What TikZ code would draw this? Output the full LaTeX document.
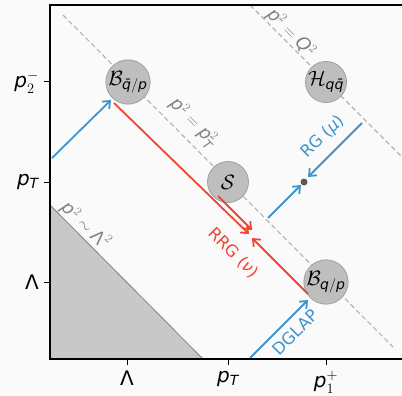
\documentclass[tikz,border=0pt]{standalone}
\usepackage{amsmath}
\usepackage{fontspec}
\setmainfont{DejaVu Sans}
\usetikzlibrary{arrows.meta}
\definecolor{cblue}{RGB}{62,148,206}
\definecolor{cred}{RGB}{240,70,50}
\definecolor{cfill}{RGB}{190,190,190}
\definecolor{cshade}{RGB}{200,200,200}
\definecolor{cdash}{RGB}{180,180,180}
\definecolor{ctxt}{RGB}{130,130,130}
\definecolor{bgc}{RGB}{250,250,250}
\newcommand{\itq}{\text{\itshape q}}
\newcommand{\itqb}{\text{\itshape q\char"0304}}
\begin{document}
\begin{tikzpicture}[x=1pt,y=-1pt,
  blob/.style={circle,fill=cfill,draw=cfill!85!black,line width=0.8pt,minimum size=41pt,inner sep=0pt,font=\fontsize{20}{22}\selectfont},
  refline/.style={draw=cdash,dash pattern=on 5pt off 3pt,line width=1.1pt},
  flow/.style={line width=1.8pt,-{Straight Barb[length=6pt,width=10pt,line width=1.8pt]}},
  tickline/.style={line width=1pt},
  ticklab/.style={font=\fontsize{20}{22}\selectfont,inner sep=2pt},
  linelab/.style={font=\fontsize{18}{20}\selectfont,inner sep=0pt},
  arrlab/.style={font=\fontsize{16.5}{18}\selectfont,inner sep=0pt}]
\fill[bgc] (0,0) rectangle (402,396);
\useasboundingbox (0,0) rectangle (402,396);
% shaded region
\fill[cshade] (50,205) -- (203,359) -- (50,359) -- cycle;
\draw[gray,line width=0.8pt] (50,205) -- (203,359);
% reference lines
\draw[refline] (63,15) -- (393,347);
\draw[refline] (250,5) -- (402,157);
% line labels
\node[linelab,text=ctxt,rotate=-45] (lq) at (291,33) {$\mathit{p}^{2}=\mathit{Q}^{2}$};
\node[linelab,text=ctxt,rotate=-45] (lpt) at (193,123) {$\mathit{p}^{2}=\mathit{p}_{\mathit{T}}^{2}$};
\node[linelab,text=ctxt,rotate=-45] (ll) at (86,225) {$\mathit{p}^{2}\sim\text{Λ}^{2}$};
% blobs
\node[blob] (bqbar) at (128,82) {$\mathcal{B}_{\itqb/\mathit{p}}$};
\node[blob] (hqq) at (326,82) {$\mathcal{H}_{\itq\itqb}$};
\node[blob] (soft) at (228,182) {$\mathcal{S}$};
\node[blob] (bq) at (326,282) {$\mathcal{B}_{\itq/\mathit{p}}$};
\fill[black!65] (304,182) circle (3.5pt);
\coordinate (dot) at (304,182);
% coordinates
\coordinate (b1s) at (52,158);
\coordinate (b1e) at (111,100);
\coordinate (r1s) at (114,103);
\coordinate (r1e) at (249,234);
\coordinate (r2s) at (218,196);
\coordinate (r2e) at (252,230);
\coordinate (r3s) at (308,294);
\coordinate (r3e) at (252,238);
\coordinate (dgs) at (250,358);
\coordinate (dge) at (308,300);
\coordinate (rgs) at (362,123);
\coordinate (rge) at (308,177);
\coordinate (sbs) at (268,218);
\coordinate (sbe) at (301,185);
% arrows
\draw[flow,cblue] (b1s) -- (b1e);
\draw[flow,cblue] (dgs) -- (dge);
\draw[flow,cblue] (rgs) -- (rge);
\draw[flow,cblue] (sbs) -- (sbe);
\draw[flow,cred] (r1s) -- (r1e);
\draw[flow,cred] (r2s) -- (r2e);
\draw[flow,cred] (r3s) -- (r3e);
% arrow labels
\node[arrlab,text=cred,rotate=-45] (rrg) at (233,253) {RRG (\textit{ν})};
\node[arrlab,text=cblue,rotate=45] (rg) at (323,137) {RG (\textit{μ})};
\node[arrlab,text=cblue,rotate=45] (dglap) at (295,332) {DGLAP};
% axes
\draw[line width=1.2pt] (402,5) -- (50,5) -- (50,359) -- (402,359);
\foreach \y in {82,182,282} \draw[tickline] (44,\y) -- (50,\y);
\foreach \x in {127,228,326} \draw[tickline] (\x,359) -- (\x,365);
\node[ticklab,anchor=east] (yt3) at (41,82) {$\mathit{p}_{2}^{-}$};
\node[ticklab,anchor=east] (yt2) at (41,182) {$\mathit{p}_{\mathit{T}}$};
\node[ticklab,anchor=east] (yt1) at (41,282) {Λ};
\node[ticklab,anchor=north] (xt1) at (127,369) {Λ};
\node[ticklab,anchor=north] (xt2) at (228,369) {$\mathit{p}_{\mathit{T}}$};
\node[ticklab,anchor=north] (xt3) at (326,369) {$\mathit{p}_{1}^{+}$};
\end{tikzpicture}
\end{document}
